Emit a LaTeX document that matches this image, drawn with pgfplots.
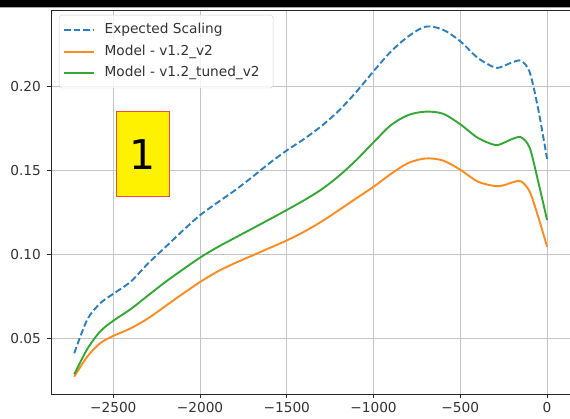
\documentclass[border=0pt]{standalone}
\usepackage{pgfplots}
\pgfplotsset{compat=1.18}
\usepackage{fontspec}
\setmainfont{DejaVu Sans}
\definecolor{mblue}{HTML}{2A7FC0}
\definecolor{morange}{HTML}{FF8A1E}
\definecolor{mgreen}{HTML}{34A834}
\definecolor{mgrid}{HTML}{C4C4C4}
\definecolor{mlegend}{HTML}{D0D0D0}
\definecolor{mred}{HTML}{F04A3A}
\definecolor{mtext}{HTML}{333333}
\begin{document}
\begin{tikzpicture}[x=1pt,y=1pt]
\useasboundingbox (0,0) rectangle (570,419);
\fill[white] (0,0) rectangle (570,419);
\begin{axis}[
  at={(51pt,25pt)}, anchor=south west,
  width=520pt, height=384pt, scale only axis,
  xmin=-2859, xmax=138, ymin=0.0173, ymax=0.2454,
  xtick={-2500,-2000,-1500,-1000,-500,0},
  xticklabels={−2500,−2000,−1500,−1000,−500,0},
  ytick={0.05,0.10,0.15,0.20},
  yticklabels={0.05,0.10,0.15,0.20},
  grid=major,
  major grid style={mgrid, line width=1pt},
  axis line style={black!85, line width=0.9pt},
  tick align=outside, xtick pos=left, ytick pos=left,
  major tick length=4pt,
  tick style={black!85, line width=0.9pt},
  tick label style={font=\fontsize{13.7}{16}\selectfont, text=mtext},
  yticklabel style={inner sep=0pt, xshift=-6pt},
  xticklabel style={inner sep=0pt, yshift=-4pt},
  legend style={at={(0,1)}, anchor=north west, xshift=8pt, yshift=-5pt,
    draw=mlegend, rounded corners=3pt, fill=white, fill opacity=0.8, text opacity=1,
    font=\fontsize{13.7}{16}\selectfont, text=mtext,
    inner xsep=4pt, inner ysep=4pt, row sep=0pt,
    nodes={text height=10pt, text depth=3pt, inner ysep=4.3pt, inner xsep=9.5pt}},
  legend cell align=left,
  legend image code/.code={\draw[#1] (0pt,0pt) -- (30pt,0pt);},
]
\addplot[mblue, line width=1.9pt, dash pattern=on 6.5pt off 3pt, smooth, tension=0.5] coordinates {
(-2725,0.0415) (-2650,0.0615) (-2575,0.0712) (-2500,0.0768) (-2400,0.0840)
(-2300,0.0948) (-2200,0.1045) (-2100,0.1143) (-2000,0.1235) (-1900,0.1310)
(-1800,0.1382) (-1700,0.1461) (-1600,0.1544) (-1500,0.1620) (-1400,0.1688)
(-1300,0.1765) (-1200,0.1856) (-1100,0.1967) (-1000,0.2090) (-900,0.2207)
(-800,0.2297) (-700,0.2355) (-600,0.2337) (-500,0.2268) (-400,0.2170)
(-300,0.2112) (-250,0.2122) (-200,0.2143) (-150,0.2152) (-100,0.2085)
(-50,0.1860) (0,0.1570)};
\addlegendentry{Expected Scaling}
\addplot[morange, line width=1.9pt, smooth, tension=0.5] coordinates {
(-2725,0.0276) (-2650,0.0395) (-2575,0.0475) (-2500,0.0518) (-2400,0.0563)
(-2300,0.0622) (-2200,0.0695) (-2100,0.0768) (-2000,0.0838) (-1900,0.0900)
(-1800,0.0950) (-1700,0.0995) (-1600,0.1040) (-1500,0.1085) (-1400,0.1137)
(-1300,0.1197) (-1200,0.1265) (-1100,0.1335) (-1000,0.1404) (-900,0.1480)
(-800,0.1545) (-700,0.1572) (-600,0.1560) (-500,0.1505) (-400,0.1435)
(-300,0.1408) (-250,0.1413) (-200,0.1430) (-150,0.1436) (-100,0.1375)
(-50,0.1222) (0,0.1048)};
\addlegendentry{Model - v1.2\_v2}
\addplot[mgreen, line width=1.9pt, smooth, tension=0.5] coordinates {
(-2725,0.0290) (-2650,0.0440) (-2575,0.0545) (-2500,0.0608) (-2400,0.0677)
(-2300,0.0758) (-2200,0.0838) (-2100,0.0912) (-2000,0.0983) (-1900,0.1045)
(-1800,0.1100) (-1700,0.1155) (-1600,0.1210) (-1500,0.1266) (-1400,0.1324)
(-1300,0.1388) (-1200,0.1468) (-1100,0.1562) (-1000,0.1668) (-900,0.1770)
(-800,0.1830) (-700,0.1850) (-600,0.1838) (-500,0.1775) (-400,0.1695)
(-300,0.1652) (-250,0.1665) (-200,0.1688) (-150,0.1698) (-100,0.1635)
(-50,0.1430) (0,0.1207)};
\addlegendentry{Model - v1.2\_tuned\_v2}
\node[draw=mred, line width=0.9pt, fill=yellow, minimum width=53pt, minimum height=85pt, inner sep=0pt,
  font=\fontsize{41}{45}\selectfont] at (axis cs:-2331,0.1598) {1};
\end{axis}
\fill[black] (0,412) rectangle (570,419);
\fill[black!35] (0,411) rectangle (570,412);
\end{tikzpicture}
\end{document}
